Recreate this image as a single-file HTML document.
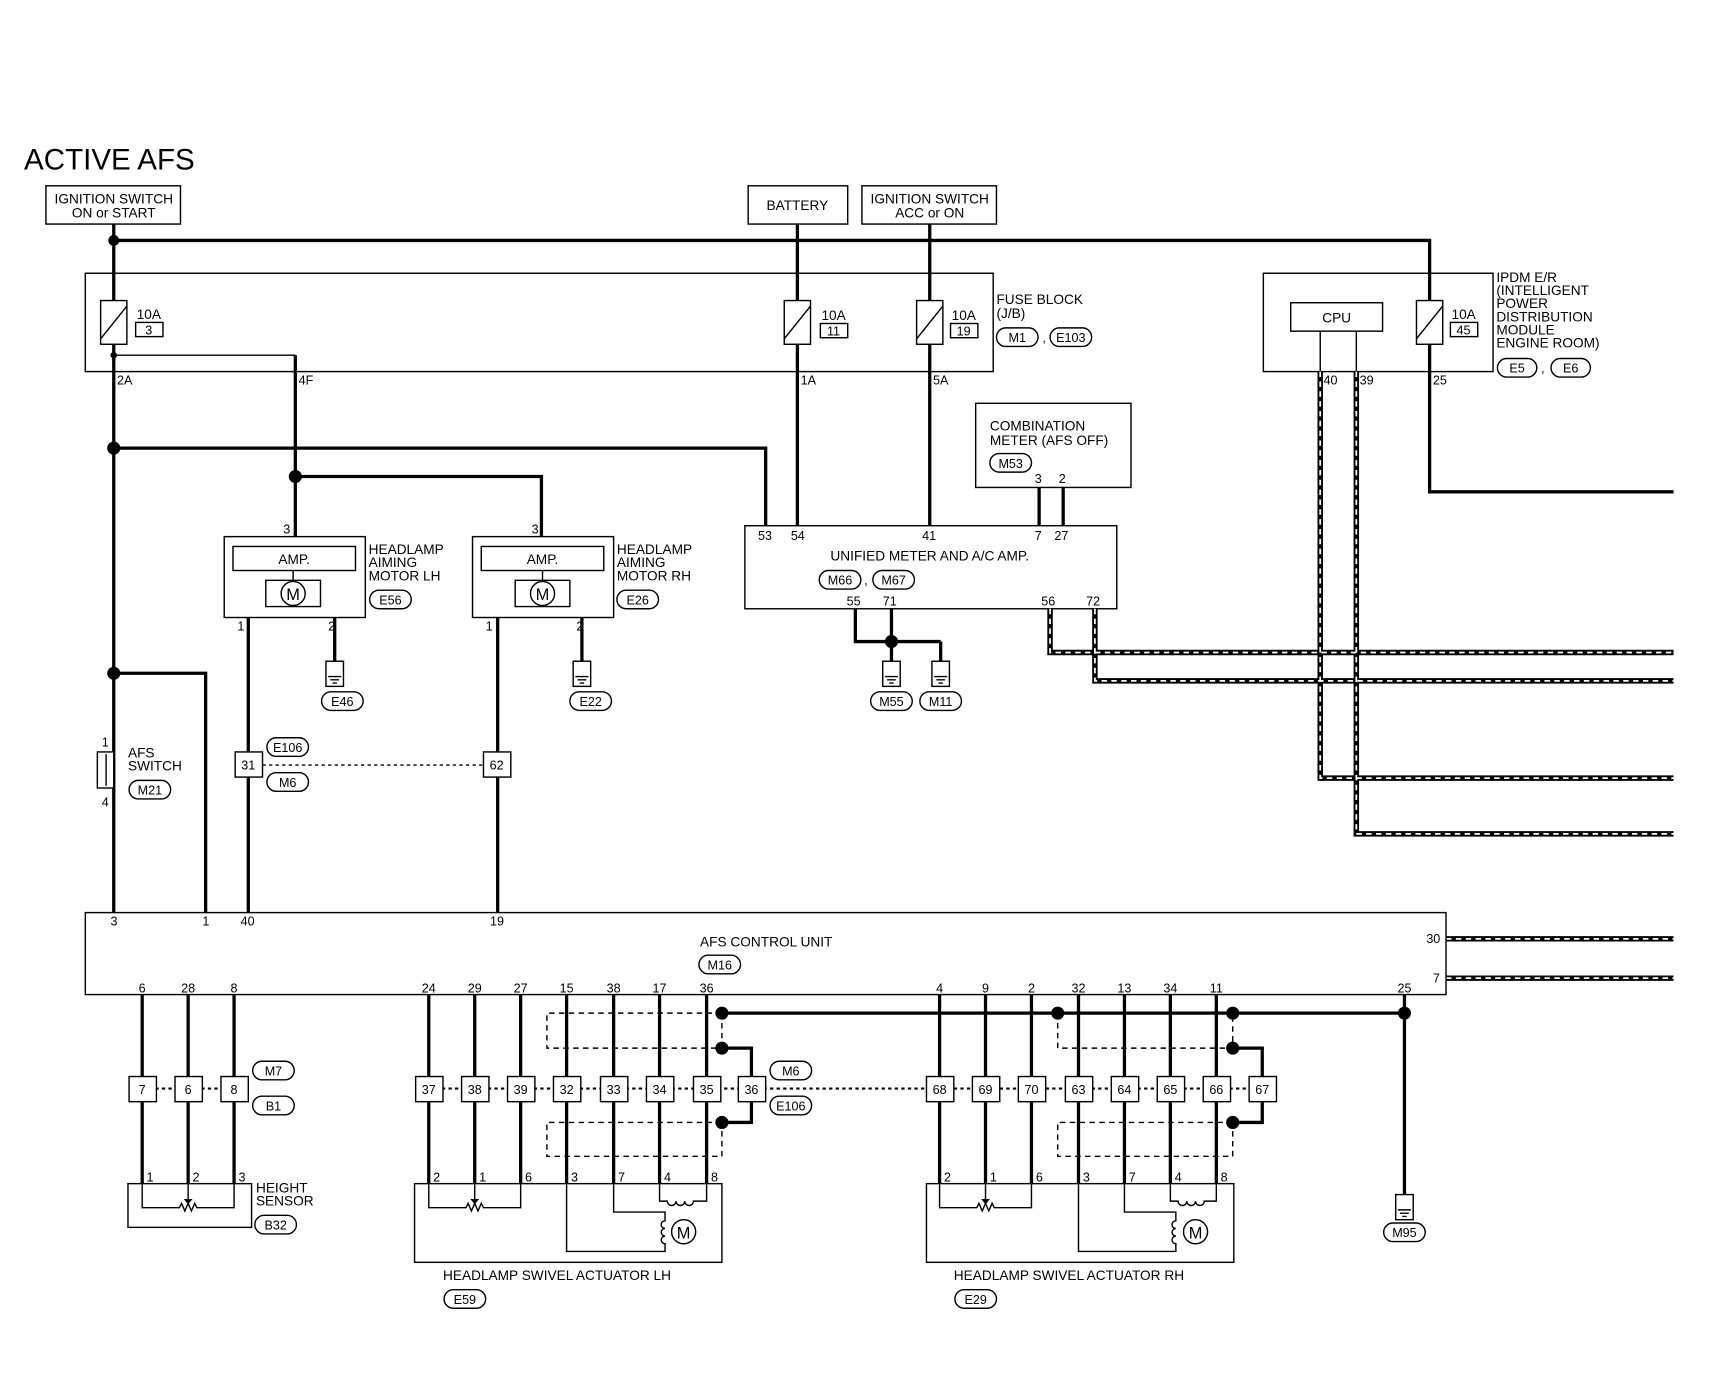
<!DOCTYPE html>
<html><head><meta charset="utf-8"><style>
html,body{margin:0;padding:0;background:#fff}
svg{display:block}
text{font-family:"Liberation Sans",sans-serif;fill:#000}
.t{font-size:12.5px}
.p{font-size:11.5px}
.w{stroke:#000;stroke-width:3;fill:none}
.n{stroke:#000;stroke-width:1.3;fill:none}
.b{stroke:#000;stroke-width:1.3;fill:#fff}
.d{stroke:#000;stroke-width:1.3;fill:none;stroke-dasharray:5,4}
.dt{stroke:#000;stroke-width:2;fill:none;stroke-dasharray:3,3}
.sk{stroke:#000;stroke-width:5;fill:none}
.sw{stroke:#fff;stroke-width:1.6;fill:none;stroke-dasharray:5,4}
</style></head><body>
<svg width="1714" height="1376" viewBox="0 0 1567 1259" preserveAspectRatio="none" xmlns="http://www.w3.org/2000/svg">
<text x="22" y="155" style="font-size:27px">ACTIVE AFS</text>

<rect x="42" y="170" width="123" height="35" class="n"/>
<text x="104" y="186" text-anchor="middle" class="t">IGNITION SWITCH</text>
<text x="104" y="199" text-anchor="middle" class="t">ON or START</text>
<rect x="684" y="170" width="91" height="35" class="n"/>
<text x="729" y="192" text-anchor="middle" class="t">BATTERY</text>
<rect x="788" y="170" width="123" height="35" class="n"/>
<text x="850" y="186" text-anchor="middle" class="t">IGNITION SWITCH</text>
<text x="850" y="199" text-anchor="middle" class="t">ACC or ON</text>

<path class="w" d="M104 205V275M104 220H1307V275M729 205V275M850 205V275"/>
<circle cx="104" cy="220" r="5"/>

<rect x="78" y="250" width="830" height="90" class="n"/>
<g class="b"><rect x="92" y="275" width="24" height="40"/><rect x="717" y="275" width="24" height="40"/><rect x="838" y="275" width="24" height="40"/><rect x="1295" y="275" width="24" height="40"/></g>
<path class="n" d="M92 310L116 280M717 310L741 280M838 310L862 280M1295 310L1319 280"/>
<text x="125" y="292" class="t">10A</text><rect x="124" y="295" width="25" height="13" class="n"/><text x="136" y="306" text-anchor="middle" class="p">3</text>
<text x="751" y="293" class="t">10A</text><rect x="750" y="296" width="25" height="13" class="n"/><text x="762" y="307" text-anchor="middle" class="p">11</text>
<text x="870" y="293" class="t">10A</text><rect x="869" y="296" width="25" height="13" class="n"/><text x="881" y="307" text-anchor="middle" class="p">19</text>
<text x="1327" y="292" class="t">10A</text><rect x="1326" y="295" width="25" height="13" class="n"/><text x="1338" y="306" text-anchor="middle" class="p">45</text>
<text x="911" y="278" class="t">FUSE BLOCK</text><text x="911" y="291" class="t">(J/B)</text>
<rect x="911" y="300" width="38" height="17" rx="8.5" class="n"/><text x="930" y="313" text-anchor="middle" class="p">M1</text>
<text x="953" y="313" class="p">,</text>
<rect x="960" y="300" width="38" height="17" rx="8.5" class="n"/><text x="979" y="313" text-anchor="middle" class="p">E103</text>

<rect x="1155" y="250" width="210" height="90" class="n"/>
<rect x="1180" y="277" width="84" height="26" class="n"/><text x="1222" y="295" text-anchor="middle" class="t">CPU</text>
<path class="n" d="M1207 303V340M1240 303V340"/>
<text x="1368" y="258" class="t">IPDM E/R</text><text x="1368" y="270" class="t">(INTELLIGENT</text><text x="1368" y="282" class="t">POWER</text><text x="1368" y="294" class="t">DISTRIBUTION</text><text x="1368" y="306" class="t">MODULE</text><text x="1368" y="318" class="t">ENGINE ROOM)</text>
<rect x="1369" y="328" width="36" height="17" rx="8.5" class="n"/><text x="1387" y="341" text-anchor="middle" class="p">E5</text>
<text x="1409" y="341" class="p">,</text>
<rect x="1418" y="328" width="36" height="17" rx="8.5" class="n"/><text x="1436" y="341" text-anchor="middle" class="p">E6</text>
<text x="1210" y="352" class="p">40</text><text x="1243" y="352" class="p">39</text><text x="1310" y="352" class="p">25</text>
<path class="w" d="M1307 315V450H1530"/>

<path class="w" d="M104 315V835M729 315V481M850 315V481"/>
<path class="n" d="M104 325H270"/><circle cx="104" cy="325" r="3"/>
<path class="w" d="M270 325V491M104 410H700V481M104 616H188V835M270 436H495V491"/>
<circle cx="104" cy="410" r="6"/><circle cx="104" cy="616" r="6"/><circle cx="270" cy="436" r="6"/>
<text x="107" y="352" class="p">2A</text><text x="273" y="352" class="p">4F</text><text x="732" y="352" class="p">1A</text><text x="853" y="352" class="p">5A</text>

<g>
<rect x="205" y="491" width="129" height="74" class="n"/>
<rect x="213" y="500" width="112" height="22" class="n"/><text x="269" y="516" text-anchor="middle" class="t">AMP.</text>
<path class="n" d="M268 522V531M243 531H293V555H243Z"/><circle cx="268" cy="543" r="11" class="b"/><text x="268" y="549" text-anchor="middle" style="font-size:15px">M</text>
<text x="259" y="488" class="p">3</text><text x="217" y="577" class="p">1</text><text x="300" y="577" class="p">2</text>
<text x="337" y="507" class="t">HEADLAMP</text><text x="337" y="519" class="t">AIMING</text><text x="337" y="531" class="t">MOTOR LH</text>
<rect x="338" y="540" width="38" height="17" rx="8.5" class="n"/><text x="357" y="553" text-anchor="middle" class="p">E56</text>
</g>
<g>
<rect x="432" y="491" width="129" height="74" class="n"/>
<rect x="440" y="500" width="112" height="22" class="n"/><text x="496" y="516" text-anchor="middle" class="t">AMP.</text>
<path class="n" d="M496 522V531M471 531H521V555H471Z"/><circle cx="496" cy="543" r="11" class="b"/><text x="496" y="549" text-anchor="middle" style="font-size:15px">M</text>
<text x="486" y="488" class="p">3</text><text x="444" y="577" class="p">1</text><text x="527" y="577" class="p">2</text>
<text x="564" y="507" class="t">HEADLAMP</text><text x="564" y="519" class="t">AIMING</text><text x="564" y="531" class="t">MOTOR RH</text>
<rect x="564" y="540" width="38" height="17" rx="8.5" class="n"/><text x="583" y="553" text-anchor="middle" class="p">E26</text>
</g>
<path class="w" d="M227 565V835M455 565V835M306 565V605M532 565V605M815 587V605M860 587V605"/>
<g class="n">
<rect x="298" y="605" width="16" height="23"/><path d="M300 619H312M302 622H310M304 625H308"/>
<rect x="524" y="605" width="16" height="23"/><path d="M526 619H538M528 622H536M530 625H534"/>
<rect x="807" y="605" width="16" height="23"/><path d="M809 619H821M811 622H819M813 625H817"/>
<rect x="852" y="605" width="16" height="23"/><path d="M854 619H866M856 622H864M858 625H862"/>
<rect x="1276" y="1093" width="16" height="23"/><path d="M1278 1107H1290M1280 1110H1288M1282 1113H1286"/>
</g>
<rect x="294" y="633" width="38" height="17" rx="8.5" class="n"/><text x="313" y="646" text-anchor="middle" class="p">E46</text>
<rect x="521" y="633" width="38" height="17" rx="8.5" class="n"/><text x="540" y="646" text-anchor="middle" class="p">E22</text>
<rect x="796" y="633" width="38" height="17" rx="8.5" class="n"/><text x="815" y="646" text-anchor="middle" class="p">M55</text>
<rect x="841" y="633" width="38" height="17" rx="8.5" class="n"/><text x="860" y="646" text-anchor="middle" class="p">M11</text>
<rect x="1265" y="1119" width="38" height="17" rx="8.5" class="n"/><text x="1284" y="1132" text-anchor="middle" class="p">M95</text>

<path class="n" d="M240 700H442" style="stroke-dasharray:3,3"/>
<rect x="215" y="688" width="25" height="23" class="b"/><text x="227" y="704" text-anchor="middle" class="p">31</text>
<rect x="442" y="688" width="25" height="23" class="b"/><text x="454" y="704" text-anchor="middle" class="p">62</text>
<rect x="244" y="675" width="38" height="17" rx="8.5" class="n"/><text x="263" y="688" text-anchor="middle" class="p">E106</text>
<rect x="244" y="707" width="38" height="17" rx="8.5" class="n"/><text x="263" y="720" text-anchor="middle" class="p">M6</text>

<rect x="89" y="688" width="15" height="33" class="b"/><path class="n" d="M97 690V719"/>
<text x="93" y="683" class="p">1</text><text x="93" y="738" class="p">4</text>
<text x="117" y="693" class="t">AFS</text><text x="117" y="705" class="t">SWITCH</text>
<rect x="118" y="714" width="38" height="17" rx="8.5" class="n"/><text x="137" y="727" text-anchor="middle" class="p">M21</text>

<rect x="892" y="369" width="142" height="77" class="n"/>
<text x="905" y="394" class="t">COMBINATION</text><text x="905" y="407" class="t">METER (AFS OFF)</text>
<rect x="905" y="415" width="38" height="17" rx="8.5" class="n"/><text x="924" y="428" text-anchor="middle" class="p">M53</text>
<text x="946" y="442" class="p">3</text><text x="968" y="442" class="p">2</text>
<path class="w" d="M950 446V481M972 446V481"/>

<rect x="681" y="481" width="340" height="76" class="n"/>
<text x="693" y="494" class="p">53</text><text x="723" y="494" class="p">54</text><text x="843" y="494" class="p">41</text><text x="946" y="494" class="p">7</text><text x="964" y="494" class="p">27</text>
<text x="850" y="513" text-anchor="middle" class="t">UNIFIED METER AND A/C AMP.</text>
<rect x="749" y="522" width="38" height="17" rx="8.5" class="n"/><text x="768" y="535" text-anchor="middle" class="p">M66</text>
<text x="790" y="535" class="p">,</text>
<rect x="798" y="522" width="38" height="17" rx="8.5" class="n"/><text x="817" y="535" text-anchor="middle" class="p">M67</text>
<text x="774" y="554" class="p">55</text><text x="807" y="554" class="p">71</text><text x="952" y="554" class="p">56</text><text x="993" y="554" class="p">72</text>
<path class="w" d="M782 557V587H860M815 557V587"/><circle cx="815" cy="587" r="6"/>

<path class="sk" d="M960 557V597H1530M1001 557V623H1530M1207 340V712H1530M1240 340V763H1530M1322 859H1530M1322 895H1530"/>
<path class="sw" d="M960 557V597H1530M1001 557V623H1530M1207 340V712H1530M1240 340V763H1530M1322 859H1530M1322 895H1530"/>

<rect x="78" y="835" width="1244" height="75" class="n"/>
<text x="101" y="847" class="p">3</text><text x="185" y="847" class="p">1</text><text x="220" y="847" class="p">40</text><text x="448" y="847" class="p">19</text>
<text x="640" y="866" class="t">AFS CONTROL UNIT</text>
<rect x="639" y="874" width="38" height="17" rx="8.5" class="n"/><text x="658" y="887" text-anchor="middle" class="p">M16</text>
<text x="1304" y="863" class="p">30</text><text x="1310" y="899" class="p">7</text>
<g class="p" text-anchor="middle">
<text x="130" y="908">6</text><text x="172" y="908">28</text><text x="214" y="908">8</text>
<text x="392" y="908">24</text><text x="434" y="908">29</text><text x="476" y="908">27</text><text x="518" y="908">15</text><text x="561" y="908">38</text><text x="603" y="908">17</text><text x="646" y="908">36</text>
<text x="859" y="908">4</text><text x="901" y="908">9</text><text x="943" y="908">2</text><text x="986" y="908">32</text><text x="1028" y="908">13</text><text x="1070" y="908">34</text><text x="1112" y="908">11</text><text x="1284" y="908">25</text>
</g>

<path class="w" d="M130 910V1083M172 910V1083M214 910V1083M392 910V1083M434 910V1083M476 910V1083M518 910V1083M561 910V1083M603 910V1083M646 910V1083M859 910V1083M901 910V1083M943 910V1083M986 910V1083M1028 910V1083M1070 910V1083M1112 910V1083M1284 910V1093"/>
<path class="w" d="M660 927H1284M660 959H687V985M687 1008V1027H660M1127 959H1154V985M1154 1008V1027H1127"/>
<path class="d" d="M660 927H500V959H660M660 959V927M660 1027H500V1058H660V1027M967 927V959H1127V927M967 927H1127M1127 1027H967V1058H1127V1027"/>
<g><circle cx="660" cy="927" r="6"/><circle cx="660" cy="959" r="6"/><circle cx="660" cy="1027" r="6"/><circle cx="967" cy="927" r="6"/><circle cx="1127" cy="927" r="6"/><circle cx="1127" cy="959" r="6"/><circle cx="1127" cy="1027" r="6"/><circle cx="1284" cy="927" r="6"/></g>

<path class="dt" d="M130 996H214M392 996H1154"/>
<g class="b">
<rect x="118" y="985" width="25" height="23"/><rect x="160" y="985" width="25" height="23"/><rect x="202" y="985" width="25" height="23"/>
<rect x="380" y="985" width="25" height="23"/><rect x="422" y="985" width="25" height="23"/><rect x="464" y="985" width="25" height="23"/><rect x="506" y="985" width="25" height="23"/><rect x="549" y="985" width="25" height="23"/><rect x="591" y="985" width="25" height="23"/><rect x="634" y="985" width="25" height="23"/><rect x="675" y="985" width="25" height="23"/>
<rect x="847" y="985" width="25" height="23"/><rect x="889" y="985" width="25" height="23"/><rect x="931" y="985" width="25" height="23"/><rect x="974" y="985" width="25" height="23"/><rect x="1016" y="985" width="25" height="23"/><rect x="1058" y="985" width="25" height="23"/><rect x="1100" y="985" width="25" height="23"/><rect x="1142" y="985" width="25" height="23"/>
</g>
<g class="p" text-anchor="middle">
<text x="130" y="1001">7</text><text x="172" y="1001">6</text><text x="214" y="1001">8</text>
<text x="392" y="1001">37</text><text x="434" y="1001">38</text><text x="476" y="1001">39</text><text x="518" y="1001">32</text><text x="561" y="1001">33</text><text x="603" y="1001">34</text><text x="646" y="1001">35</text><text x="687" y="1001">36</text>
<text x="859" y="1001">68</text><text x="901" y="1001">69</text><text x="943" y="1001">70</text><text x="986" y="1001">63</text><text x="1028" y="1001">64</text><text x="1070" y="1001">65</text><text x="1112" y="1001">66</text><text x="1154" y="1001">67</text>
</g>
<rect x="231" y="971" width="38" height="17" rx="8.5" class="n"/><text x="250" y="984" text-anchor="middle" class="p">M7</text>
<rect x="231" y="1003" width="38" height="17" rx="8.5" class="n"/><text x="250" y="1016" text-anchor="middle" class="p">B1</text>
<rect x="704" y="971" width="38" height="17" rx="8.5" class="n"/><text x="723" y="984" text-anchor="middle" class="p">M6</text>
<rect x="704" y="1003" width="38" height="17" rx="8.5" class="n"/><text x="723" y="1016" text-anchor="middle" class="p">E106</text>

<rect x="117" y="1083" width="113" height="40" class="n"/>
<path class="n" d="M130 1083V1105H164l2-4 3 7 3-7 3 7 3-7 2 4H214V1083M172 1083V1100"/><path d="M168 1097H176L172 1102Z"/>
<text x="134" y="1081" class="p">1</text><text x="176" y="1081" class="p">2</text><text x="218" y="1081" class="p">3</text>
<text x="234" y="1091" class="t">HEIGHT</text><text x="234" y="1103" class="t">SENSOR</text>
<rect x="233" y="1112" width="38" height="17" rx="8.5" class="n"/><text x="252" y="1125" text-anchor="middle" class="p">B32</text>

<rect x="379" y="1083" width="281" height="72" class="n"/>
<path class="n" d="M392 1083V1105H426l2-4 3 7 3-7 3 7 3-7 2 4H476V1083M434 1083V1100"/><path d="M430 1097H438L434 1102Z"/>
<path class="n" d="M518 1083V1145H608V1138a3 3 0 0 1 0-7a3 3 0 0 1 0-7a3 3 0 0 1 0-7V1109H561V1083M603 1083V1099H610a4 4 0 0 0 8 0a4 4 0 0 0 8 0a4 4 0 0 0 8 0H646V1083"/>
<circle cx="625" cy="1127" r="11" class="n"/><text x="625" y="1133" text-anchor="middle" style="font-size:15px">M</text>
<text x="396" y="1081" class="p">2</text><text x="438" y="1081" class="p">1</text><text x="480" y="1081" class="p">6</text><text x="522" y="1081" class="p">3</text><text x="565" y="1081" class="p">7</text><text x="607" y="1081" class="p">4</text><text x="650" y="1081" class="p">8</text>
<text x="405" y="1171" class="t">HEADLAMP SWIVEL ACTUATOR LH</text>
<rect x="406" y="1180" width="38" height="17" rx="8.5" class="n"/><text x="425" y="1193" text-anchor="middle" class="p">E59</text>

<rect x="847" y="1083" width="281" height="72" class="n"/>
<path class="n" d="M859 1083V1105H893l2-4 3 7 3-7 3 7 3-7 2 4H943V1083M901 1083V1100"/><path d="M897 1097H905L901 1102Z"/>
<path class="n" d="M986 1083V1145H1075V1138a3 3 0 0 1 0-7a3 3 0 0 1 0-7a3 3 0 0 1 0-7V1109H1028V1083M1070 1083V1099H1077a4 4 0 0 0 8 0a4 4 0 0 0 8 0a4 4 0 0 0 8 0H1112V1083"/>
<circle cx="1093" cy="1127" r="11" class="n"/><text x="1093" y="1133" text-anchor="middle" style="font-size:15px">M</text>
<text x="863" y="1081" class="p">2</text><text x="905" y="1081" class="p">1</text><text x="947" y="1081" class="p">6</text><text x="990" y="1081" class="p">3</text><text x="1032" y="1081" class="p">7</text><text x="1074" y="1081" class="p">4</text><text x="1116" y="1081" class="p">8</text>
<text x="872" y="1171" class="t">HEADLAMP SWIVEL ACTUATOR RH</text>
<rect x="873" y="1180" width="38" height="17" rx="8.5" class="n"/><text x="892" y="1193" text-anchor="middle" class="p">E29</text>
</svg>
</body></html>
